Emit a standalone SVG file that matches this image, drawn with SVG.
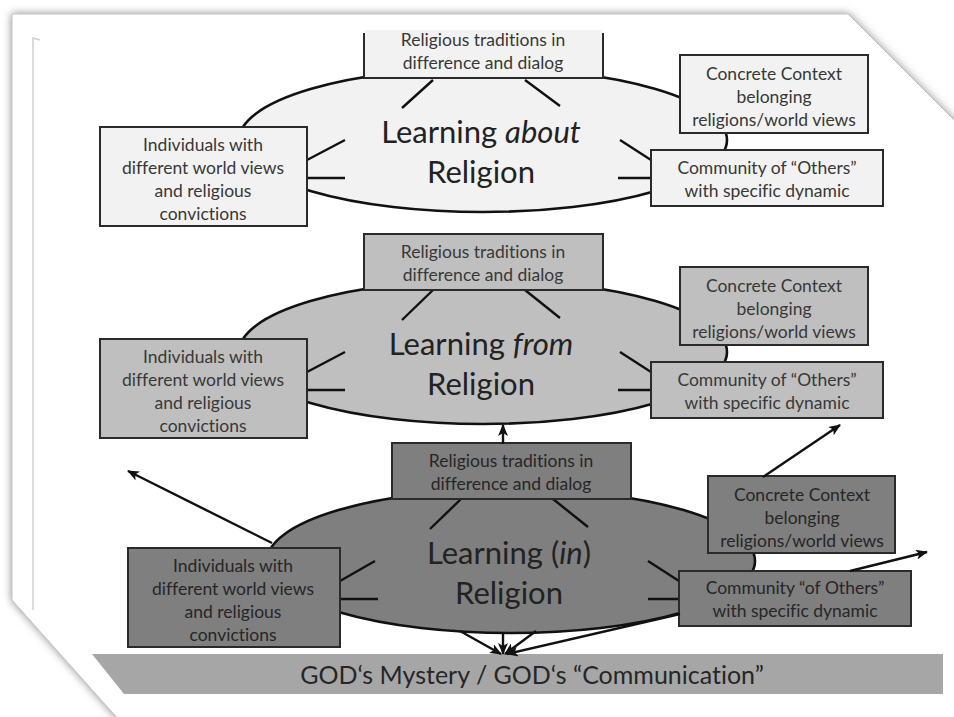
<svg xmlns="http://www.w3.org/2000/svg" width="954" height="717" viewBox="0 0 954 717">
<defs>
<filter id="pageShadow" x="-5%" y="-5%" width="110%" height="110%">
<feDropShadow dx="0" dy="0" stdDeviation="4.5" flood-color="#7a7a7a" flood-opacity="0.85"/>
</filter>
<marker id="arr" viewBox="0 0 12 10" refX="11" refY="5" markerWidth="12" markerHeight="10" markerUnits="userSpaceOnUse" orient="auto">
<path d="M0,0 L12,5 L0,10 L3,5 Z" fill="#111"/>
</marker>
<style>
text{font-variant-ligatures:none}
.ell{stroke:#111;stroke-width:2.6}
.box{stroke:#2a2a2a;stroke-width:2}
.spoke{stroke:#111;stroke-width:2.4;fill:none}
.conn{stroke:#111;stroke-width:2.4;fill:none}
.t{font-family:Lato,"Liberation Sans",sans-serif;font-size:17.5px;text-anchor:middle;fill:#383838}
.big{font-family:Lato,"Liberation Sans",sans-serif;font-size:31px;text-anchor:middle;fill:#222}
.l1 .ell,.l1 .box{fill:#f2f2f2}
.l2 .ell,.l2 .box{fill:#bfbfbf}
.l3 .ell,.l3 .box{fill:#7f7f7f}
.l3 .t{fill:#262626}
.god{font-family:Lato,"Liberation Sans",sans-serif;font-size:25px;text-anchor:middle;fill:#262626}
</style>
</defs>
<rect width="954" height="717" fill="#ffffff"/>
<polygon points="12,14 848,14 960,126 960,730 128,730 12,600" fill="#ffffff" stroke="#c4c4c4" stroke-width="1" filter="url(#pageShadow)"/>
<path d="M33,610 L33,38 L40,40" fill="none" stroke="#cfcfcf" stroke-width="1.5"/>

<g id="god-bar">
<polygon points="92,654 943,654 943,694 124,694" fill="#a6a6a6"/>
<text class="god" x="532" y="684">GOD‘s Mystery  / GOD‘s “Communication”</text>
</g>

<!-- Layer 1: Learning about Religion -->
<g class="l1">
<g id="about-core"><ellipse class="ell" cx="483" cy="140" rx="244" ry="72"/>
<text class="big" x="481" y="143">Learning <tspan font-style="italic">about</tspan></text>
<text class="big" x="481" y="183">Religion</text></g>
<g id="about-spokes">
<path class="spoke" d="M433,80 L402,108 M525,80 L560,106 M307,160 L345,140 M307,178 L345,178 M620,140 L651,160 M618,178 L651,178"/>
</g>
<g id="about-traditions"><path class="box" d="M364,33 L364,78 L603,78 L603,33"/>
<rect x="365" y="30" width="237" height="4" fill="#f2f2f2"/>
<text class="t" x="483" y="46">Religious traditions in</text>
<text class="t" x="483" y="69">difference and dialog</text></g>
<g id="about-individuals"><rect class="box" x="100" y="127" width="207" height="99"/>
<text class="t" x="203" y="151">Individuals with</text>
<text class="t" x="203" y="174">different world views</text>
<text class="t" x="203" y="197">and religious</text>
<text class="t" x="203" y="220">convictions</text></g>
<g id="about-context"><rect class="box" x="680" y="55" width="188" height="78"/>
<text class="t" x="774" y="80">Concrete Context</text>
<text class="t" x="774" y="103">belonging</text>
<text class="t" x="774" y="126">religions/world views</text></g>
<g id="about-community"><rect class="box" x="651" y="150" width="232" height="56"/>
<text class="t" x="767" y="174">Community of “Others”</text>
<text class="t" x="767" y="197">with specific dynamic</text></g>
</g>

<!-- Layer 2: Learning from Religion -->
<g class="l2" transform="translate(0,212)">
<g id="from-core"><ellipse class="ell" cx="483" cy="140" rx="244" ry="72"/>
<text class="big" x="481" y="143">Learning <tspan font-style="italic">from</tspan></text>
<text class="big" x="481" y="183">Religion</text></g>
<g id="from-spokes">
<path class="spoke" d="M433,78 L402,108 M525,78 L560,106 M307,160 L345,140 M307,178 L345,178 M620,140 L651,160 M618,178 L651,178"/>
</g>
<g id="from-traditions"><rect class="box" x="364" y="22" width="239" height="56"/>
<text class="t" x="483" y="46">Religious traditions in</text>
<text class="t" x="483" y="69">difference and dialog</text></g>
<g id="from-individuals"><rect class="box" x="100" y="127" width="207" height="99"/>
<text class="t" x="203" y="151">Individuals with</text>
<text class="t" x="203" y="174">different world views</text>
<text class="t" x="203" y="197">and religious</text>
<text class="t" x="203" y="220">convictions</text></g>
<g id="from-context"><rect class="box" x="680" y="55" width="188" height="78"/>
<text class="t" x="774" y="80">Concrete Context</text>
<text class="t" x="774" y="103">belonging</text>
<text class="t" x="774" y="126">religions/world views</text></g>
<g id="from-community"><rect class="box" x="651" y="150" width="232" height="56"/>
<text class="t" x="767" y="174">Community of “Others”</text>
<text class="t" x="767" y="197">with specific dynamic</text></g>
</g>

<!-- Layer 3: Learning (in) Religion -->
<g class="l3" transform="translate(28,421)">
<g id="in-core"><ellipse class="ell" cx="483" cy="140" rx="244" ry="72"/>
<text class="big" x="481" y="143">Learning (<tspan font-style="italic">in</tspan>)</text>
<text class="big" x="481" y="183">Religion</text></g>
<g id="in-spokes">
<path class="spoke" d="M433,78 L402,108 M525,78 L560,106 M312,160 L347,140 M312,178 L350,178 M620,140 L651,160 M620,178 L651,178"/>
</g>
<g id="in-traditions"><rect class="box" x="364" y="22" width="239" height="56"/>
<text class="t" x="483" y="46">Religious traditions in</text>
<text class="t" x="483" y="69">difference and dialog</text></g>
<g id="in-individuals"><rect class="box" x="100" y="127" width="212" height="99"/>
<text class="t" x="205" y="151">Individuals with</text>
<text class="t" x="205" y="174">different world views</text>
<text class="t" x="205" y="197">and religious</text>
<text class="t" x="205" y="220">convictions</text></g>
<g id="in-context"><rect class="box" x="680" y="55" width="187" height="77"/>
<text class="t" x="774" y="80">Concrete Context</text>
<text class="t" x="774" y="103">belonging</text>
<text class="t" x="774" y="126">religions/world views</text></g>
<g id="in-community"><rect class="box" x="651" y="150" width="232" height="55"/>
<text class="t" x="767" y="173">Community “of Others”</text>
<text class="t" x="767" y="196">with specific dynamic</text></g>
</g>

<g id="connectors">
<line class="conn" x1="503" y1="444" x2="503" y2="425" marker-end="url(#arr)"/>
<line class="conn" x1="272" y1="543" x2="128" y2="471" marker-end="url(#arr)"/>
<line class="conn" x1="763" y1="477" x2="840" y2="425" marker-end="url(#arr)"/>
<line class="conn" x1="850" y1="571" x2="927" y2="552" marker-end="url(#arr)"/>
<line class="conn" x1="460" y1="631" x2="501" y2="654" marker-end="url(#arr)"/>
<line class="conn" x1="503" y1="633" x2="503" y2="654" marker-end="url(#arr)"/>
<line class="conn" x1="536" y1="631" x2="505" y2="654" marker-end="url(#arr)"/>
<line class="conn" x1="680" y1="614" x2="507" y2="654" marker-end="url(#arr)"/>
</g>
</svg>
